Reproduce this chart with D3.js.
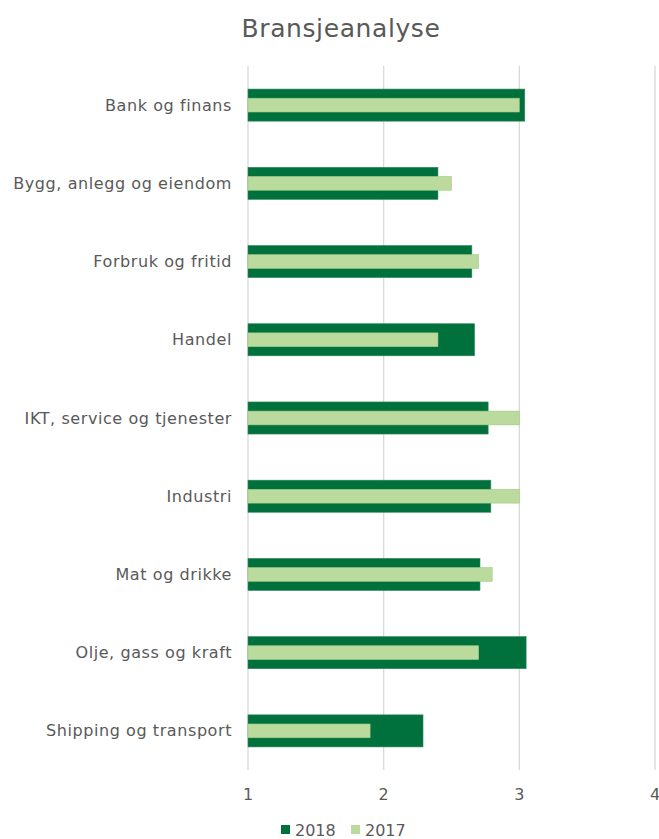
<!DOCTYPE html>
<html>
<head>
<meta charset="utf-8">
<script src="https://cdn.jsdelivr.net/npm/d3@7"></script>
<style>
  body { margin: 0; background: #fff; }
  svg text { font-family: "DejaVu Sans", Verdana, sans-serif; }
</style>
</head>
<body>
<div id="chart"></div>
<script>
const categories = [
  'Bank og finans',
  'Bygg, anlegg og eiendom',
  'Forbruk og fritid',
  'Handel',
  'IKT, service og tjenester',
  'Industri',
  'Mat og drikke',
  'Olje, gass og kraft',
  'Shipping og transport',
];
const values2018 = [3.04, 2.40, 2.65, 2.67, 2.77, 2.79, 2.71, 3.05, 2.29];
const values2017 = [3.00, 2.50, 2.70, 2.40, 3.00, 3.00, 2.80, 2.70, 1.90];
const xTicks = [1, 2, 3, 4];

const width = 659, height = 839;
const margin = { top: 66, right: 4, bottom: 69, left: 248 };
const COL_2018 = '#00703c';
const COL_2017 = '#bbdb9e';
const TEXT = '#595959';

const svg = d3.select('#chart').append('svg')
  .attr('width', width)
  .attr('height', height);

const x = d3.scaleLinear()
  .domain([1, 4])
  .range([margin.left, 655]);

const y = d3.scaleBand()
  .domain(categories)
  .range([margin.top, height - margin.bottom])
  .paddingInner(0.59)
  .paddingOuter(0.295);

// title
svg.append('text')
  .attr('x', 341)
  .attr('y', 37)
  .attr('text-anchor', 'middle')
  .attr('font-size', 25)
  .attr('letter-spacing', 0.6)
  .attr('fill', TEXT)
  .text('Bransjeanalyse');

// gridlines
svg.append('g')
  .selectAll('line')
  .data(xTicks)
  .enter().append('line')
  .attr('x1', d => x(d))
  .attr('x2', d => x(d))
  .attr('y1', margin.top)
  .attr('y2', height - margin.bottom)
  .attr('stroke', '#d9d9d9')
  .attr('stroke-width', 1.3);

// x tick labels
svg.append('g')
  .selectAll('text')
  .data(xTicks)
  .enter().append('text')
  .attr('x', d => x(d))
  .attr('y', 800)
  .attr('text-anchor', 'middle')
  .attr('font-size', 16)
  .attr('fill', TEXT)
  .text(d => d);

// category labels
svg.append('g')
  .selectAll('text')
  .data(categories)
  .enter().append('text')
  .attr('x', 232)
  .attr('y', d => y(d) + y.bandwidth() / 2)
  .attr('dy', '0.35em')
  .attr('text-anchor', 'end')
  .attr('font-size', 16)
  .attr('letter-spacing', 0.58)
  .attr('fill', TEXT)
  .text(d => d);

// 2018 bars (wide)
svg.append('g')
  .selectAll('rect')
  .data(categories)
  .enter().append('rect')
  .attr('x', x(1))
  .attr('y', d => y(d))
  .attr('width', (d, i) => x(values2018[i]) - x(1))
  .attr('height', y.bandwidth())
  .attr('fill', COL_2018)
  .attr('stroke', '#2f8a57')
  .attr('stroke-width', 0.6);

// 2017 bars (narrow, overlaid)
const innerH = y.bandwidth() * 0.43;
svg.append('g')
  .selectAll('rect')
  .data(categories)
  .enter().append('rect')
  .attr('x', x(1))
  .attr('y', d => y(d) + (y.bandwidth() - innerH) / 2)
  .attr('width', (d, i) => x(values2017[i]) - x(1))
  .attr('height', innerH)
  .attr('fill', COL_2017)
  .attr('stroke', '#9fcc82')
  .attr('stroke-width', 0.6);

// legend
const legend = [
  { label: '2018', color: COL_2018, x: 281 },
  { label: '2017', color: COL_2017, x: 351 },
];
const lg = svg.append('g').selectAll('g')
  .data(legend)
  .enter().append('g')
  .attr('transform', d => `translate(${d.x},830)`);
lg.append('rect')
  .attr('x', 0).attr('y', -5)
  .attr('width', 9).attr('height', 9)
  .attr('fill', d => d.color);
lg.append('text')
  .attr('x', 14).attr('y', 0)
  .attr('dy', '0.38em')
  .attr('font-size', 16)
  .attr('fill', TEXT)
  .text(d => d.label);
</script>
</body>
</html>
